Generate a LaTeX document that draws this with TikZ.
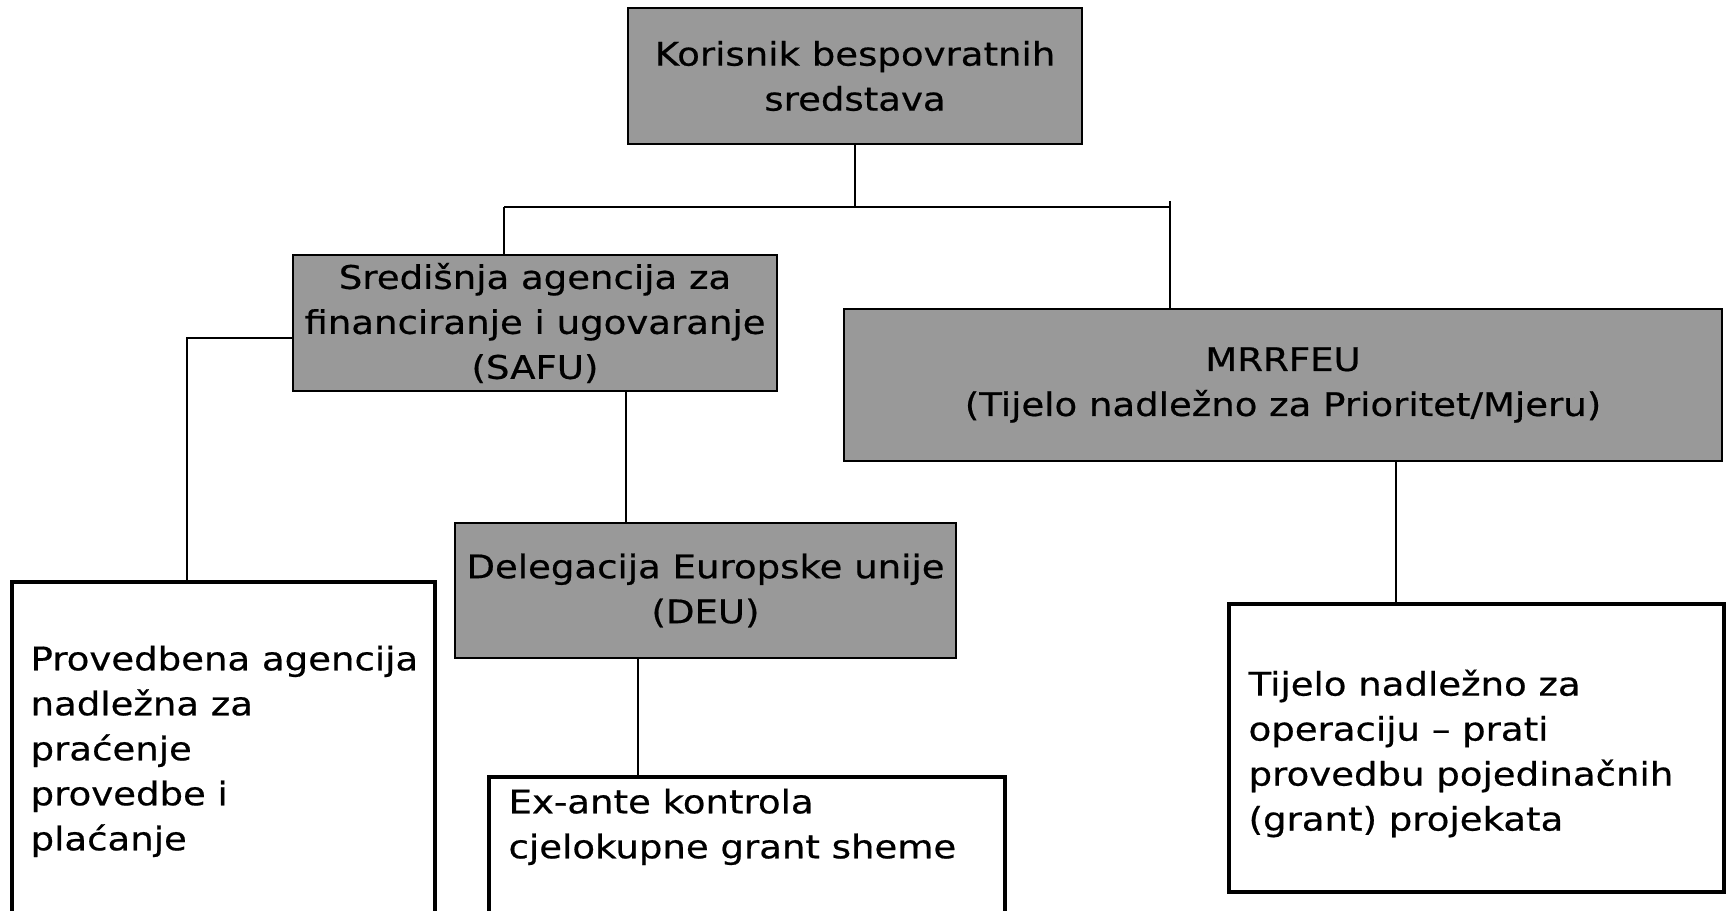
\documentclass[tikz,border=0pt]{standalone}
\usepackage{fontspec}
\setmainfont{DejaVu Sans}[FakeStretch=1.14, FakeBold=0.6]
\usepackage{tikz}
\usetikzlibrary{positioning}

\definecolor{boxgray}{RGB}{153,153,153}

\tikzset{
    link/.style={line width=0.04cm},
    graybox/.style={draw, line width=0.04cm, fill=boxgray, align=center, inner sep=0pt},
    whitebox/.style={draw, line width=0.07cm, fill=white, inner sep=0pt},
    boxtext/.style={anchor=north west, align=left, inner sep=0pt}
}

\begin{document}
\begin{tikzpicture}[font=\fontsize{18.5}{25.6}\selectfont]
                    \useasboundingbox (0, 0) rectangle (34.58, -18.22);

                    \node [graybox, minimum width=9.08cm, minimum height=2.72cm] (korisnik) at (17.10, -1.52) {Korisnik bespovratnih\\sredstava};
                    \node [graybox, minimum width=9.68cm, minimum height=2.72cm] (safu) at (10.70, -6.46) {Središnja agencija za\\financiranje i ugovaranje\\(SAFU)};
                    \node [graybox, minimum width=17.56cm, minimum height=3.04cm] (mrrfeu) at (25.66, -7.70) {MRRFEU\\(Tijelo nadležno za Prioritet/Mjeru)};
                    \node [graybox, minimum width=10.02cm, minimum height=2.70cm] (deu) at (14.11, -11.81) {Delegacija Europske unije\\(DEU)};

                    \node [whitebox, minimum width=8.46cm, minimum height=7.2cm] (provedbena) at (4.47, -15.24) {};
                    \node [whitebox, minimum width=10.32cm, minimum height=4.0cm] (exante) at (14.94, -17.54) {};
                    \node [whitebox, minimum width=9.90cm, minimum height=5.76cm] (tijelo) at (29.53, -14.96) {};

                    \node [boxtext] (provedbenatxt) at ([xshift=0.40cm, yshift=-1.30cm]provedbena.north west) {Provedbena agencija\\nadležna za\\praćenje\\provedbe i\\plaćanje};
                    \node [boxtext] (exantetxt) at ([xshift=0.42cm, yshift=-0.26cm]exante.north west) {Ex-ante kontrola\\cjelokupne grant sheme};
                    \node [boxtext] (tijelotxt) at ([xshift=0.42cm, yshift=-1.34cm]tijelo.north west) {Tijelo nadležno za\\operaciju – prati\\provedbu pojedinačnih\\(grant) projekata};

                    \coordinate (hubL) at (10.08, -4.14);
                    \coordinate (hubR) at (23.40, -4.14);
                    \coordinate (tick) at (23.40, -4.02);
                    \coordinate (elbow) at (3.74, -6.76);

                    \draw [link] (korisnik.south) -- (korisnik.south |- hubL);
                    \draw [link] (hubL) -- (hubR);
                    \draw [link] (hubL) -- (hubL |- safu.north);
                    \draw [link] (tick) -- (tick |- mrrfeu.north);
                    \draw [link] (safu.west |- elbow) -- (elbow) -- (elbow |- provedbena.north);
                    \draw [link] ([xshift=1.82cm]safu.south) -- ([xshift=1.82cm]safu.south |- deu.north);
                    \draw [link] ([xshift=-1.35cm]deu.south) -- ([xshift=-1.35cm]deu.south |- exante.north);
                    \draw [link] ([xshift=2.26cm]mrrfeu.south) -- ([xshift=2.26cm]mrrfeu.south |- tijelo.north);
                \end{tikzpicture}
\end{document}
